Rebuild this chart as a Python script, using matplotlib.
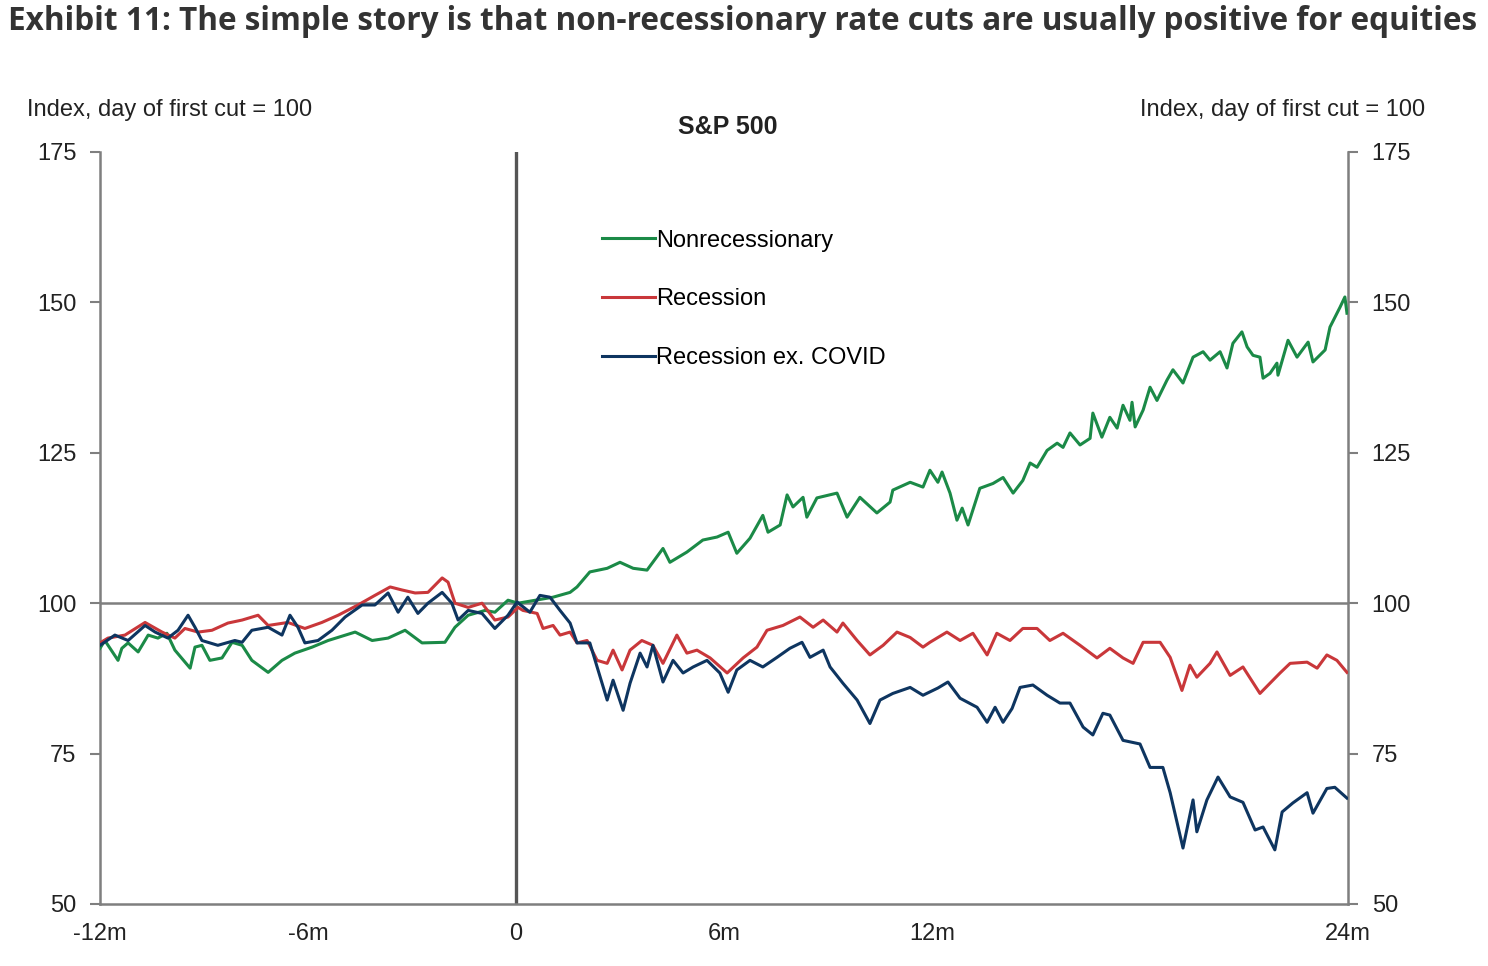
import matplotlib.pyplot as plt

# months relative to first cut / index values (day of first cut = 100)
nonrec_m = [-12.00, -11.86, -11.48, -11.37, -11.19, -10.90, -10.61, -10.33, -10.07, -9.84,
            -9.40, -9.26, -9.06, -8.83, -8.48, -8.19, -7.90, -7.62, -7.15, -6.75,
            -6.38, -5.88, -5.42, -4.64, -4.15, -3.69, -3.20, -2.71, -2.05, -1.76,
            -1.38, -0.89, -0.61, -0.23, 0.06, 1.07, 1.56, 1.76, 2.13, 2.63,
            3.00, 3.38, 3.78, 4.24, 4.44, 4.93, 5.39, 5.80, 6.12, 6.37,
            6.75, 7.12, 7.27, 7.62, 7.82, 7.99, 8.28, 8.39, 8.68, 9.26,
            9.55, 9.92, 10.41, 10.79, 10.87, 11.37, 11.74, 11.94, 12.17, 12.29,
            12.52, 12.72, 12.87, 13.04, 13.38, 13.76, 14.05, 14.34, 14.62, 14.83,
            15.03, 15.32, 15.61, 15.78, 15.98, 16.27, 16.56, 16.64, 16.90, 17.13,
            17.34, 17.51, 17.71, 17.77, 17.86, 18.09, 18.29, 18.49, 18.78, 18.95,
            19.24, 19.53, 19.82, 20.02, 20.31, 20.51, 20.68, 20.94, 21.09, 21.26,
            21.46, 21.55, 21.75, 21.95, 21.98, 22.27, 22.53, 22.85, 22.99, 23.34,
            23.48, 23.77, 23.91, 23.97]
nonrec_v = [92.5, 93.8, 90.5, 92.5, 93.4, 91.9, 94.7, 94.2, 95.0, 92.2,
            89.2, 92.7, 93.0, 90.5, 90.9, 93.5, 93.0, 90.5, 88.5, 90.5,
            91.7, 92.7, 93.8, 95.2, 93.8, 94.2, 95.5, 93.4, 93.5, 96.0,
            98.0, 98.8, 98.5, 100.5, 100.0, 101.0, 101.8, 102.7, 105.2, 105.8,
            106.8, 105.8, 105.5, 109.1, 106.8, 108.5, 110.5, 111.0, 111.8, 108.3,
            110.8, 114.6, 111.8, 113.0, 118.0, 116.0, 117.6, 114.3, 117.5, 118.3,
            114.3, 117.6, 115.0, 116.8, 118.8, 120.1, 119.3, 122.1, 120.1, 121.8,
            118.3, 113.8, 115.8, 113.0, 119.1, 119.9, 120.9, 118.3, 120.4, 123.3,
            122.6, 125.4, 126.6, 125.9, 128.3, 126.3, 127.4, 131.6, 127.6, 130.9,
            129.1, 132.9, 130.4, 133.4, 129.3, 132.1, 135.9, 133.7, 137.1, 138.8,
            136.6, 140.9, 141.8, 140.4, 141.8, 139.1, 143.2, 145.1, 142.6, 141.2,
            140.9, 137.4, 138.2, 139.9, 137.9, 143.7, 140.9, 143.4, 140.1, 142.1,
            145.9, 149.2, 150.9, 148.2]

rec_m = [-12.00, -11.77, -11.28, -10.70, -10.21, -9.84, -9.55, -9.17, -8.77, -8.31,
         -7.90, -7.44, -7.15, -6.58, -6.09, -5.60, -5.13, -4.56, -4.07, -3.63,
         -3.29, -2.91, -2.54, -2.13, -1.96, -1.76, -1.38, -0.98, -0.61, -0.23,
         0.06, 0.20, 0.61, 0.78, 1.07, 1.27, 1.56, 1.76, 2.05, 2.34,
         2.63, 2.80, 3.06, 3.29, 3.63, 3.95, 4.24, 4.64, 4.93, 5.22,
         5.60, 6.09, 6.55, 6.95, 7.24, 7.70, 8.19, 8.57, 8.86, 9.26,
         9.43, 9.84, 10.21, 10.59, 10.99, 11.37, 11.74, 11.94, 12.43, 12.81,
         13.18, 13.59, 13.87, 14.25, 14.62, 15.03, 15.40, 15.78, 16.27, 16.76,
         17.13, 17.51, 17.80, 18.09, 18.58, 18.87, 19.21, 19.44, 19.64, 20.02,
         20.22, 20.60, 20.97, 21.46, 21.75, 22.04, 22.33, 22.82, 23.11, 23.39,
         23.68, 23.97]
rec_v = [93.4, 94.2, 94.7, 96.8, 95.2, 94.2, 95.8, 95.2, 95.5, 96.7,
         97.2, 98.0, 96.3, 96.8, 95.8, 96.8, 98.0, 99.7, 101.3, 102.7,
         102.2, 101.7, 101.8, 104.2, 103.5, 100.0, 99.3, 100.0, 97.2, 97.7,
         99.3, 98.8, 98.3, 95.8, 96.3, 94.7, 95.2, 93.4, 93.8, 90.5,
         90.0, 92.2, 88.9, 92.2, 93.8, 93.0, 90.0, 94.7, 91.7, 92.2,
         90.9, 88.4, 90.9, 92.7, 95.5, 96.3, 97.7, 96.0, 97.2, 95.2,
         96.7, 93.8, 91.4, 93.0, 95.2, 94.3, 92.7, 93.5, 95.2, 93.8,
         95.0, 91.4, 95.0, 93.8, 95.8, 95.8, 93.8, 95.0, 93.0, 90.9,
         92.5, 90.9, 90.0, 93.5, 93.5, 91.0, 85.5, 89.7, 87.7, 90.0,
         91.9, 88.0, 89.4, 85.0, 86.7, 88.4, 90.0, 90.2, 89.2, 91.4,
         90.5, 88.5]

exc_m = [-12.00, -11.57, -11.19, -10.70, -10.41, -10.04, -9.75, -9.46, -9.26, -9.06,
         -8.60, -8.11, -7.90, -7.62, -7.15, -6.75, -6.52, -6.29, -6.09, -5.71,
         -5.31, -4.93, -4.44, -4.07, -3.69, -3.40, -3.12, -2.83, -2.54, -2.13,
         -1.85, -1.67, -1.38, -0.98, -0.61, -0.23, 0.03, 0.40, 0.69, 0.98,
         1.27, 1.56, 1.76, 2.13, 2.34, 2.63, 2.80, 3.09, 3.29, 3.58,
         3.78, 3.95, 4.24, 4.53, 4.82, 5.11, 5.51, 5.88, 6.12, 6.37,
         6.75, 7.12, 7.53, 7.90, 8.25, 8.48, 8.86, 9.06, 9.43, 9.84,
         10.21, 10.50, 10.87, 11.37, 11.74, 12.17, 12.46, 12.81, 13.30, 13.59,
         13.82, 14.05, 14.31, 14.54, 14.91, 15.32, 15.69, 15.98, 16.36, 16.64,
         16.93, 17.13, 17.51, 18.00, 18.29, 18.66, 18.87, 19.24, 19.53, 19.64,
         19.93, 20.25, 20.60, 20.97, 21.32, 21.55, 21.89, 22.10, 22.41, 22.82,
         22.99, 23.39, 23.62, 23.97]
exc_v = [93.0, 94.7, 93.8, 96.3, 95.2, 94.2, 95.5, 98.0, 96.0, 93.8,
         93.0, 93.8, 93.5, 95.5, 96.0, 94.7, 98.0, 96.0, 93.4, 93.8,
         95.5, 97.7, 99.7, 99.7, 101.7, 98.5, 101.0, 98.3, 100.0, 101.8,
         100.0, 97.2, 98.8, 98.3, 95.8, 98.0, 100.2, 98.5, 101.3, 101.0,
         98.8, 96.7, 93.4, 93.4, 89.4, 83.9, 87.2, 82.2, 86.7, 91.7,
         89.4, 93.0, 86.9, 90.5, 88.4, 89.4, 90.5, 88.4, 85.2, 88.9,
         90.5, 89.4, 91.0, 92.5, 93.5, 91.0, 92.2, 89.4, 86.7, 83.9,
         80.0, 83.9, 85.0, 86.0, 84.7, 85.9, 86.9, 84.2, 82.7, 80.2,
         82.7, 80.2, 82.5, 86.0, 86.4, 84.7, 83.4, 83.4, 79.4, 78.1,
         81.7, 81.4, 77.2, 76.6, 72.7, 72.7, 68.5, 59.3, 67.3, 62.0,
         67.3, 71.1, 67.8, 66.9, 62.3, 62.8, 59.0, 65.3, 66.8, 68.5,
         65.1, 69.2, 69.4, 67.6]

xticks = [-12, -6, 0, 6, 12, 24]
xlabels = ["-12m", "-6m", "0", "6m", "12m", "24m"]
yticks = [50, 75, 100, 125, 150, 175]

green = "#1b8a47"
red = "#c9373a"
navy = "#0e3560"
grey = "#7f7f7f"

plt.rcParams['font.family'] = ['Liberation Sans', 'DejaVu Sans']

fig = plt.figure(figsize=(14.88, 9.66), dpi=100)
ax = fig.add_axes([100/1488, 1-904/966, 1248/1488, 752/966])

ax.axhline(100, color=grey, lw=1.8, zorder=1)
ax.axvline(0, color="#555555", lw=2.4, zorder=1)

ax.plot(nonrec_m, nonrec_v, color=green, lw=2.2, label="Nonrecessionary", zorder=3)
ax.plot(rec_m, rec_v, color=red, lw=2.2, label="Recession", zorder=3)
ax.plot(exc_m, exc_v, color=navy, lw=2.2, label="Recession ex. COVID", zorder=4)

ax.set_xlim(-12, 24)
ax.set_ylim(50, 175)
ax.set_xticks(xticks)
ax.set_xticklabels(xlabels)
ax.set_yticks(yticks)
ax.tick_params(axis="x", length=0, pad=14, labelsize=17, colors="#222222")
ax.tick_params(axis="y", length=7, width=1.5, color=grey, pad=10, labelsize=17,
               labelcolor="#222222", left=True, right=True, labelleft=True, labelright=True)
ax.spines["top"].set_visible(False)
for s in ["left", "right", "bottom"]:
    ax.spines[s].set_color(grey)
    ax.spines[s].set_linewidth(1.8)

ax.legend(loc="upper left", bbox_to_anchor=(0.385, 0.925), frameon=False, fontsize=17,
          handlelength=2.25, handletextpad=0.05, labelspacing=1.55)

fig.text(728/1488, 1-127/966, "S&P 500", ha="center", va="center", fontsize=18,
         fontweight="bold", color="#222222")
fig.text(27/1488, 1-110/966, "Index, day of first cut = 100", ha="left", va="center",
         fontsize=17, color="#222222")
fig.text(1425/1488, 1-110/966, "Index, day of first cut = 100", ha="right", va="center",
         fontsize=17, color="#222222")
fig.text(8/1488, 1-21/966,
         "Exhibit 11: The simple story is that non-recessionary rate cuts are usually positive for equities",
         ha="left", va="center", fontsize=22.7, fontweight="bold", color="#333333",
         family=["Open Sans", "DejaVu Sans"])

fig.savefig("out.png", dpi=100)
